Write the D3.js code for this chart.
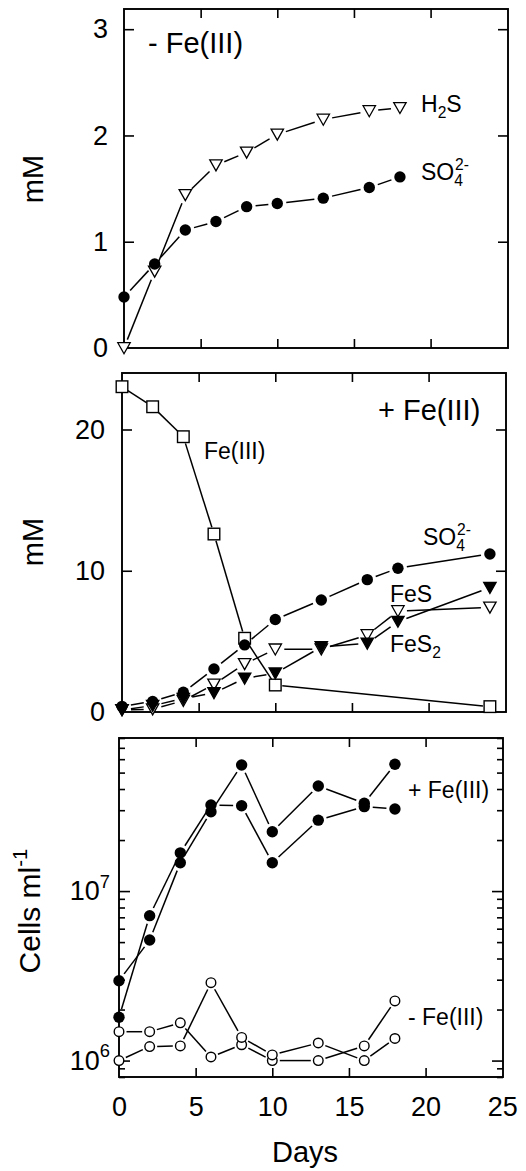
<!DOCTYPE html>
<html>
<head>
<meta charset="utf-8">
<script src="https://cdn.jsdelivr.net/npm/d3@7"></script>
<style>
  body { margin: 0; background: #fff; }
  svg { display: block; font-family: "Liberation Sans", Arial, Helvetica, sans-serif; }
</style>
</head>
<body>
<div id="chart"></div>
<script>
// sampling days
const days = [0, 2, 4, 6, 8, 10, 13, 16, 18];
const daysFe = [0, 2, 4, 6, 8, 10, 24];
const daysMid = [0, 2, 4, 6, 8, 10, 13, 16, 18, 24];

// top panel, - Fe(III), mM
const h2sNoFe = [0, 0.72, 1.44, 1.72, 1.84, 2.01, 2.15, 2.23, 2.26];
const sulfateNoFe = [0.48, 0.79, 1.11, 1.19, 1.33, 1.36, 1.41, 1.51, 1.61];

// middle panel, + Fe(III), mM
const ferric = [23.03, 21.61, 19.49, 12.6, 5.22, 1.91, 0.38];
const sulfateFe = [0.4, 0.75, 1.4, 3.05, 4.75, 6.55, 7.93, 9.37, 10.18, 11.19];
const fes = [0.15, 0.2, 0.8, 1.95, 3.4, 4.44, 4.45, 5.45, 7.15, 7.4];
const fes2 = [0.15, 0.45, 0.95, 1.35, 2.38, 2.74, 4.6, 4.86, 6.4, 8.8];

// bottom panel, cells per ml, two replicates each
const cellsFeA = [2.96e6, 5.14e6, 1.47e7, 2.94e7, 5.54e7, 2.24e7, 4.17e7, 3.3e7, 5.6e7];
const cellsFeB = [1.80e6, 7.16e6, 1.68e7, 3.22e7, 3.19e7, 1.47e7, 2.62e7, 3.15e7, 3.05e7];
const cellsNoFeA = [1.48e6, 1.48e6, 1.67e6, 1.05e6, 1.24e6, 1.0e6, 1.0e6, 1.22e6, 2.25e6];
const cellsNoFeB = [1.0e6, 1.21e6, 1.22e6, 2.88e6, 1.37e6, 1.08e6, 1.27e6, 1.0e6, 1.35e6];

// ticks
const dayTicks = [0, 5, 10, 15, 20, 25];
const mMTicksTop = [0, 1, 2, 3];
const mMTicksMid = [0, 10, 20];
const cellMajor = [1e6, 1e7];
const cellMinor = [8e5, 9e5, 2e6, 3e6, 4e6, 5e6, 6e6, 7e6, 8e6, 9e6, 2e7, 3e7, 4e7, 5e7, 6e7, 7e7, 8e7];

const width = 526, height = 1171;
const panelW = 384;
const tickLen = 10, minorLen = 6;
const tickFont = 27;

const svg = d3.select("#chart").append("svg")
  .attr("width", width)
  .attr("height", height);

// the three panels are a little offset from each other in the original
const top_ = { left: 124, top: 9, bottom: 348 };
const mid = { left: 122, top: 373, bottom: 712 };
const bot = { left: 119, top: 738, bottom: 1077 };

const xTop = d3.scaleLinear().domain([0, 25.05]).range([top_.left, top_.left + panelW]);
const yTop = d3.scaleLinear().domain([0, 3.19]).range([top_.bottom, top_.top]);
const xMid = d3.scaleLinear().domain([0, 25.05]).range([mid.left, mid.left + panelW]);
const yMid = d3.scaleLinear().domain([0, 24]).range([mid.bottom, mid.top]);
const xBot = d3.scaleLinear().domain([0, 25.05]).range([bot.left, bot.left + panelW]);
const yBot = d3.scaleLog().domain([8e5, 8e7]).range([bot.bottom, bot.top]);

function fixAxis(g, size) {
  g.select(".domain").remove();
  g.attr("font-family", null).attr("font-size", size);
  g.selectAll(".tick line").attr("stroke-width", 1.6);
  g.selectAll(".tick text").attr("fill", "#000");
}

function frame(p) {
  svg.append("rect")
    .attr("x", p.left)
    .attr("y", p.top)
    .attr("width", panelW)
    .attr("height", p.bottom - p.top)
    .attr("fill", "none")
    .attr("stroke", "#000")
    .attr("stroke-width", 1.9);
}

function dayAxes(p, x, withLabels) {
  svg.append("g")
    .attr("transform", `translate(0,${p.top})`)
    .call(d3.axisTop(x).tickValues([5, 10, 15, 20]).tickSizeInner(-9).tickSizeOuter(0).tickFormat(""))
    .call(g => fixAxis(g, tickFont));
  const b = svg.append("g")
    .attr("transform", `translate(0,${p.bottom})`)
    .call(d3.axisBottom(x).tickValues(withLabels ? dayTicks : [5, 10, 15, 20])
      .tickSizeInner(-9).tickSizeOuter(0).tickPadding(20)
      .tickFormat(withLabels ? d3.format("d") : ""))
    .call(g => fixAxis(g, tickFont));
  b.selectAll(".tick line").filter(d => d == 0 || d == 25).remove();
}

function linearYAxes(p, y, ticks, pad) {
  svg.append("g")
    .attr("transform", `translate(${p.left},0)`)
    .call(d3.axisLeft(y).tickValues(ticks).tickSizeInner(-tickLen).tickSizeOuter(0).tickPadding(pad).tickFormat(d3.format("d")))
    .call(g => fixAxis(g, tickFont))
    .selectAll(".tick line").filter(d => d == 0).remove();
  svg.append("g")
    .attr("transform", `translate(${p.left + panelW},0)`)
    .call(d3.axisRight(y).tickValues(ticks.filter(d => d > 0)).tickSizeInner(-tickLen).tickSizeOuter(0).tickFormat(""))
    .call(g => fixAxis(g, tickFont));
}

// text with sub/superscripts
function label(x, y, parts, size, opts = {}) {
  const t = svg.append("text")
    .attr("x", x)
    .attr("y", y)
    .attr("font-size", size)
    .attr("fill", "#000");
  if (opts.anchor) t.attr("text-anchor", opts.anchor);
  if (opts.rotate) t.attr("transform", `rotate(${opts.rotate},${x},${y})`);
  let shift = 0;
  parts.forEach(p => {
    const s = t.append("tspan").text(p.t);
    let target = 0;
    if (p.sub) target = size * 0.28;
    if (p.sup) target = -size * 0.45;
    if (target - shift != 0) s.attr("dy", target - shift);
    shift = target;
    if (p.sub || p.sup) s.attr("font-size", size * 0.68);
    if (p.dx) s.attr("dx", p.dx);
  });
  return t;
}

// line segments stop short of the markers, like the original plot
function series(x, y, xs, ys, marker, gap) {
  const pts = xs.map((d, i) => [x(d), y(ys[i])]);
  const segs = [];
  for (let i = 1; i < pts.length; i++) {
    const [x1, y1] = pts[i - 1], [x2, y2] = pts[i];
    const len = Math.hypot(x2 - x1, y2 - y1);
    if (len <= 2 * gap + 2) continue;
    const ux = (x2 - x1) / len, uy = (y2 - y1) / len;
    segs.push([x1 + ux * gap, y1 + uy * gap, x2 - ux * gap, y2 - uy * gap]);
  }
  svg.append("g").selectAll("line")
    .data(segs)
    .join("line")
    .attr("x1", d => d[0]).attr("y1", d => d[1])
    .attr("x2", d => d[2]).attr("y2", d => d[3])
    .attr("stroke", "#000")
    .attr("stroke-width", 1.5);
  return { pts, marker };
}

function markers(s) {
  const g = svg.append("g");
  const m = s.marker;
  if (m == "dot" || m == "ring") {
    g.selectAll("circle").data(s.pts).join("circle")
      .attr("cx", d => d[0]).attr("cy", d => d[1])
      .attr("r", m == "dot" ? 5.7 : 4.8)
      .attr("fill", m == "dot" ? "#000" : "#fff")
      .attr("stroke", "#000")
      .attr("stroke-width", m == "dot" ? 0 : 1.4);
  } else if (m == "tri" || m == "triFill") {
    g.selectAll("path").data(s.pts).join("path")
      .attr("d", d => `M${d[0] - 6.2},${d[1] - 5.3}L${d[0] + 6.2},${d[1] - 5.3}L${d[0]},${d[1] + 5.7}Z`)
      .attr("fill", m == "tri" ? "#fff" : "#000")
      .attr("stroke", "#000")
      .attr("stroke-width", 1.3)
      .attr("stroke-linejoin", "miter");
  } else if (m == "square") {
    g.selectAll("rect").data(s.pts).join("rect")
      .attr("x", d => d[0] - 5.8).attr("y", d => d[1] - 5.8)
      .attr("width", 11.6).attr("height", 11.6)
      .attr("fill", "#fff")
      .attr("stroke", "#000")
      .attr("stroke-width", 1.4);
  }
}

// ---- top panel
frame(top_);
dayAxes(top_, xTop, false);
linearYAxes(top_, yTop, mMTicksTop, 16);
const sH2s = series(xTop, yTop, days, h2sNoFe, "tri", 9);
const sSo4a = series(xTop, yTop, days, sulfateNoFe, "dot", 9);
markers(sH2s);
markers(sSo4a);
label(148, 53, [{ t: "- Fe(III)" }], 29);
label(421, 112, [{ t: "H" }, { t: "2", sub: true }, { t: "S" }], 23);
label(421, 180, [{ t: "SO" }, { t: "4", sub: true }, { t: "2-", sup: true, dx: -8 }], 23);
label(43, 179, [{ t: "mM" }], 29, { anchor: "middle", rotate: -90 });

// ---- middle panel
frame(mid);
dayAxes(mid, xMid, false);
linearYAxes(mid, yMid, mMTicksMid, 17);
const sFe = series(xMid, yMid, daysFe, ferric, "square", 7);
const sFes = series(xMid, yMid, daysMid, fes, "tri", 9);
const sFes2 = series(xMid, yMid, daysMid, fes2, "triFill", 9);
const sSo4b = series(xMid, yMid, daysMid, sulfateFe, "dot", 9);
markers(sFe);
markers(sFes);
markers(sFes2);
markers(sSo4b);
label(378, 420, [{ t: "+ Fe(III)" }], 29);
label(204, 459, [{ t: "Fe(III)" }], 23);
label(423, 545, [{ t: "SO" }, { t: "4", sub: true }, { t: "2-", sup: true, dx: -8 }], 23);
label(390, 602, [{ t: "FeS" }], 23);
label(390, 652, [{ t: "FeS" }, { t: "2", sub: true }], 23);
label(43, 542, [{ t: "mM" }], 29, { anchor: "middle", rotate: -90 });

// ---- bottom panel
frame(bot);
dayAxes(bot, xBot, true);
[[bot.left, d3.axisLeft], [bot.left + panelW, d3.axisRight]].forEach(([xPos, ax]) => {
  svg.append("g")
    .attr("transform", `translate(${xPos},0)`)
    .call(ax(yBot).tickValues(cellMinor).tickSizeInner(-minorLen).tickSizeOuter(0).tickFormat(""))
    .call(g => fixAxis(g, tickFont));
  svg.append("g")
    .attr("transform", `translate(${xPos},0)`)
    .call(ax(yBot).tickValues(cellMajor).tickSizeInner(-tickLen - 1).tickSizeOuter(0).tickFormat(""))
    .call(g => fixAxis(g, tickFont));
});
cellMajor.forEach(v => {
  label(bot.left - 9, yBot(v) + 9, [{ t: "10" }, { t: d3.format("d")(Math.log10(v)), sup: true }], tickFont, { anchor: "end" });
});
const sA = series(xBot, yBot, days, cellsFeA, "dot", 8.5);
const sB = series(xBot, yBot, days, cellsFeB, "dot", 8.5);
const sC = series(xBot, yBot, days, cellsNoFeA, "ring", 7.5);
const sD = series(xBot, yBot, days, cellsNoFeB, "ring", 7.5);
[sA, sB, sC, sD].forEach(markers);
label(408, 798, [{ t: "+ Fe(III)" }], 23);
label(408, 1025, [{ t: "- Fe(III)" }], 23);
label(40, 911, [{ t: "Cells ml" }, { t: "-1", sup: true }], 30, { anchor: "middle", rotate: -90 });
label(305, 1162, [{ t: "Days" }], 29, { anchor: "middle" });
</script>
</body>
</html>
